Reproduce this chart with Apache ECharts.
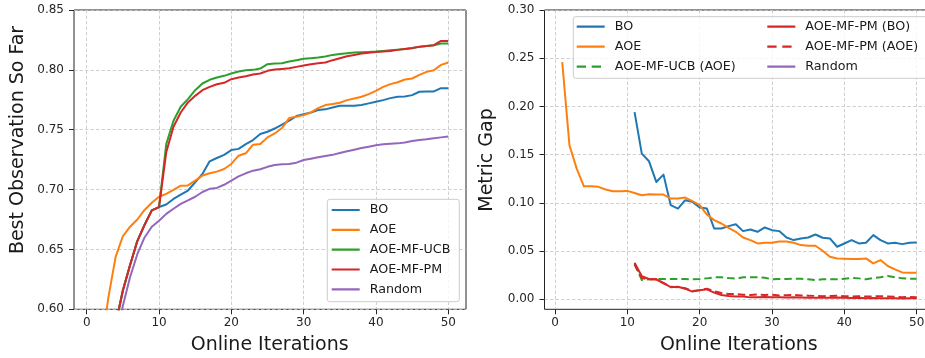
<!DOCTYPE html>
<html>
<head>
<meta charset="utf-8">
<title>Best observation so far / metric gap</title>
<script src="https://cdn.jsdelivr.net/npm/echarts@6/dist/echarts.min.js"></script>
<style>
  html, body { margin: 0; padding: 0; background: #fff; }
  #chart { width: 925px; height: 358px; }
</style>
</head>
<body>
<div id="chart"></div>
<script>
// left panel: best observation so far, iterations 0..50
const leftStart = 0;
const leftBO = [0.45, 0.50, 0.54, 0.57, 0.5873, 0.6157, 0.637, 0.657, 0.6705, 0.6826, 0.6854,
  0.6875, 0.6922, 0.6958, 0.6992, 0.706, 0.713, 0.7236, 0.7264, 0.729, 0.733,
  0.734, 0.738, 0.7414, 0.7464, 0.7483, 0.751, 0.7542, 0.7575, 0.7614, 0.763,
  0.7644, 0.7664, 0.767, 0.7686, 0.77, 0.77, 0.77, 0.7706, 0.772, 0.7733,
  0.7747, 0.7764, 0.7775, 0.7778, 0.7789, 0.7817, 0.782, 0.782, 0.7847, 0.7847];
const leftAOE = [0.45, 0.50, 0.5665, 0.61, 0.6438, 0.661, 0.669, 0.675, 0.683, 0.689, 0.694,
  0.6964, 0.6997, 0.7033, 0.7035, 0.7075, 0.7117, 0.7136, 0.715, 0.7172, 0.7214,
  0.7283, 0.7303, 0.7375, 0.738, 0.7436, 0.7469, 0.7514, 0.7597, 0.7608, 0.7622,
  0.7644, 0.768, 0.7706, 0.7714, 0.7725, 0.7747, 0.7761, 0.7775, 0.7797, 0.7825,
  0.7858, 0.7881, 0.7897, 0.7919, 0.7928, 0.7958, 0.7983, 0.7997, 0.8042, 0.8061];
const leftUCB = [0.45, 0.50, 0.54, 0.57, 0.5873, 0.6157, 0.637, 0.657, 0.6705, 0.6826, 0.6854,
  0.738, 0.7575, 0.7692, 0.7756, 0.783, 0.7886, 0.7917, 0.7936, 0.795, 0.797,
  0.7986, 0.7997, 0.8, 0.8011, 0.8047, 0.8053, 0.8056, 0.8069, 0.808, 0.8092,
  0.8097, 0.8103, 0.8111, 0.8125, 0.8133, 0.8139, 0.8144, 0.8147, 0.815, 0.8153,
  0.8158, 0.8164, 0.8169, 0.8175, 0.8181, 0.8192, 0.82, 0.8206, 0.822, 0.822];
const leftPM = [0.45, 0.50, 0.54, 0.57, 0.5873, 0.6157, 0.637, 0.657, 0.6705, 0.6826, 0.6854,
  0.7311, 0.7525, 0.7644, 0.7728, 0.7783, 0.783, 0.7858, 0.788, 0.7892, 0.7922,
  0.7936, 0.7947, 0.7961, 0.797, 0.7992, 0.8003, 0.8008, 0.8014, 0.8025, 0.8036,
  0.8047, 0.8056, 0.8061, 0.8081, 0.8097, 0.8114, 0.8125, 0.8136, 0.8142, 0.815,
  0.8153, 0.8158, 0.8167, 0.8175, 0.8183, 0.8194, 0.82, 0.8206, 0.8242, 0.8242];
const leftRandom = [0.45, 0.49, 0.52, 0.55, 0.573, 0.603, 0.627, 0.646, 0.66, 0.669, 0.674,
  0.6797, 0.684, 0.688, 0.691, 0.694, 0.698, 0.7006, 0.7014, 0.704, 0.7075,
  0.711, 0.7136, 0.7158, 0.717, 0.719, 0.7206, 0.7211, 0.7214, 0.7225, 0.7247,
  0.7258, 0.727, 0.728, 0.729, 0.7306, 0.732, 0.7333, 0.7347, 0.7358, 0.737,
  0.7378, 0.7383, 0.7386, 0.7394, 0.7406, 0.7414, 0.742, 0.7428, 0.7436, 0.7444];

// right panel: metric gap
const rightAOEStart = 1;
const rightAOE = [0.2459, 0.1597, 0.1355, 0.1172, 0.1172, 0.1166, 0.1138, 0.1121, 0.1121, 0.1124,
  0.1103, 0.1079, 0.109, 0.1086, 0.1086, 0.1045, 0.1045, 0.1055, 0.1017, 0.0976,
  0.0879, 0.0821, 0.0786, 0.0741, 0.07, 0.0641, 0.0614, 0.0579, 0.0586, 0.0586,
  0.06, 0.06, 0.0586, 0.0562, 0.0555, 0.0555, 0.0503, 0.0441, 0.0424, 0.0421,
  0.0417, 0.0417, 0.0424, 0.0372, 0.0407, 0.0345, 0.031, 0.0279, 0.0276, 0.0276];
const rightMFStart = 11;
const rightBO = [0.1941, 0.151, 0.1431, 0.1217, 0.1293, 0.0976, 0.0941, 0.1028, 0.101, 0.0952,
  0.0941, 0.0734, 0.0734, 0.0759, 0.0779, 0.0707, 0.0724, 0.07, 0.0745, 0.0717,
  0.0707, 0.0641, 0.0614, 0.0631, 0.0641, 0.0672, 0.0638, 0.0631, 0.0545, 0.0579,
  0.0614, 0.0579, 0.0586, 0.0666, 0.0614, 0.0579, 0.0586, 0.0572, 0.0586, 0.059];
const rightUCBAOE = [0.037, 0.020, 0.0207, 0.021, 0.021, 0.021, 0.021, 0.021, 0.0207, 0.021,
  0.0217, 0.0228, 0.0228, 0.022, 0.0214, 0.0228, 0.0228, 0.0228, 0.0224, 0.0207,
  0.021, 0.021, 0.0214, 0.0214, 0.0207, 0.020, 0.0207, 0.0207, 0.0207, 0.0214,
  0.0221, 0.0217, 0.0207, 0.0221, 0.0228, 0.0241, 0.0228, 0.0217, 0.0214, 0.0214];
const rightPMBO = [0.038, 0.024, 0.021, 0.0205, 0.017, 0.0125, 0.013, 0.011, 0.008, 0.0095,
  0.0103, 0.007, 0.0045, 0.0035, 0.003, 0.0028, 0.002, 0.0022, 0.0025, 0.0022,
  0.002, 0.0018, 0.002, 0.0018, 0.0015, 0.0017, 0.0015, 0.0015, 0.0018, 0.0015,
  0.0013, 0.0015, 0.0012, 0.0014, 0.0012, 0.0012, 0.001, 0.0008, 0.0012, 0.001];
const rightPMAOE = [0.036, 0.022, 0.0205, 0.021, 0.0165, 0.013, 0.0125, 0.0115, 0.0085, 0.0095,
  0.011, 0.0085, 0.0065, 0.0055, 0.0055, 0.0048, 0.0045, 0.005, 0.0045, 0.0048,
  0.004, 0.0042, 0.0045, 0.004, 0.0038, 0.0035, 0.0032, 0.0035, 0.0038, 0.0032,
  0.003, 0.0032, 0.0028, 0.003, 0.0032, 0.0028, 0.0025, 0.0022, 0.0025, 0.0022];

const C = { blue: '#1f77b4', orange: '#ff7f0e', green: '#2ca02c', red: '#d62728', purple: '#9467bd' };
const FONT = 'DejaVu Sans';
const INK = '#262626';
const gridLine = { color: '#c4c4c4', width: 0.8, type: [3.5, 2] };

const grids = [], xAxes = [], yAxes = [];

// one panel = data grid (frame) + grid carrying x ticks + grid carrying y ticks
function addPanel(f) {
  const sx = f.width / (f.xMax - f.xMin);
  const sy = f.height / (f.yMax - f.yMin);
  const g = grids.length;
  const base = { outerBoundsMode: 'none', containLabel: false };
  grids.push({ ...base, left: f.left, top: f.top, width: f.width, height: f.height,
    show: true, borderColor: '#222', borderWidth: 1, backgroundColor: 'transparent' });
  grids.push({ ...base, left: f.left + (f.xFrom - f.xMin) * sx, width: (f.xTo - f.xFrom) * sx,
    top: f.top, height: f.height });
  grids.push({ ...base, left: f.left, width: f.width,
    top: f.top + (f.yMax - f.yTo) * sy, height: (f.yTo - f.yFrom) * sy });
  const dataIdx = xAxes.length;
  xAxes.push({ gridIndex: g, type: 'value', min: f.xMin, max: f.xMax, show: false });
  yAxes.push({ gridIndex: g, type: 'value', min: f.yMin, max: f.yMax, show: false });
  xAxes.push({ gridIndex: g + 1, type: 'value', min: f.xFrom, max: f.xTo, interval: f.xStep,
    axisLine: { show: false, onZero: false },
    axisTick: { show: true, length: 5, lineStyle: { color: INK, width: 1 } },
    axisLabel: { fontFamily: FONT, fontSize: 12, color: INK, margin: 8 },
    splitLine: { show: true, lineStyle: gridLine } });
  yAxes.push({ gridIndex: g + 1, type: 'value', min: 0, max: 1, show: false });
  xAxes.push({ gridIndex: g + 2, type: 'value', min: 0, max: 1, show: false });
  yAxes.push({ gridIndex: g + 2, type: 'value', min: f.yFrom, max: f.yTo, interval: f.yStep,
    axisLine: { show: false, onZero: false },
    axisTick: { show: true, length: 5, lineStyle: { color: INK, width: 1 } },
    axisLabel: { fontFamily: FONT, fontSize: 12, color: INK, margin: 10,
      formatter: v => v.toFixed(2) },
    splitLine: { show: true, lineStyle: gridLine } });
  return dataIdx;
}

const L = addPanel({ left: 74, top: 10, width: 392, height: 299.3,
  xMin: -1.756, xMax: 52.45, yMin: 0.6, yMax: 0.85,
  xFrom: 0, xTo: 50, xStep: 10, yFrom: 0.6, yTo: 0.85, yStep: 0.05 });
const R = addPanel({ left: 544.5, top: 10, width: 389.9, height: 299.3,
  xMin: -1.45, xMax: 52.45, yMin: -0.01037, yMax: 0.30,
  xFrom: 0, xTo: 50, xStep: 10, yFrom: 0, yTo: 0.30, yStep: 0.05 });

function line(name, axis, start, values, color, dashed) {
  return {
    name, type: 'line', xAxisIndex: axis, yAxisIndex: axis,
    data: values.map((v, i) => [start + i, v]),
    symbol: 'none', showSymbol: false, color, clip: true,
    lineStyle: { width: 2, color, type: dashed ? [7.5, 4] : 'solid', join: 'round' },
    emphasis: { disabled: true }, silent: true
  };
}

const series = [
  line('BO', L, leftStart, leftBO, C.blue),
  line('AOE', L, leftStart, leftAOE, C.orange),
  line('AOE-MF-UCB', L, leftStart, leftUCB, C.green),
  line('AOE-MF-PM', L, leftStart, leftPM, C.red),
  line('Random', L, leftStart, leftRandom, C.purple),
  line('BO', R, rightMFStart, rightBO, C.blue),
  line('AOE', R, rightAOEStart, rightAOE, C.orange),
  line('AOE-MF-UCB (AOE)', R, rightMFStart, rightUCBAOE, C.green, true),
  line('AOE-MF-PM (BO)', R, rightMFStart, rightPMBO, C.red),
  line('AOE-MF-PM (AOE)', R, rightMFStart, rightPMAOE, C.red, true)
];

const solidIcon = 'path://M0,0h28v2.2h-28z M32.99,0h0.01v2.2h-0.01z';
const dashIcon = 'path://M0,0h9.3v2.2h-9.3z M15,0h9.3v2.2h-9.3z M32.99,0h0.01v2.2h-0.01z';
function legendBox(left, top, gap, items) {
  return {
    orient: 'vertical', left, top, padding: 0, itemWidth: 33, itemHeight: 2.2, itemGap: gap,
    selectedMode: false, itemStyle: { borderWidth: 0 },
    textStyle: { fontFamily: FONT, fontSize: 12.7, lineHeight: 14, color: '#1a1a1a' },
    data: items.map(([name, dashed]) => ({ name, icon: dashed ? dashIcon : solidIcon }))
  };
}

const legends = [
  legendBox(331.7, 203, 5.83, [['BO'], ['AOE'], ['AOE-MF-UCB'], ['AOE-MF-PM'], ['Random']]),
  legendBox(576.7, 19.7, 6, [['BO'], ['AOE'], ['AOE-MF-UCB (AOE)', true]]),
  legendBox(767.3, 19.7, 6, [['AOE-MF-PM (BO)'], ['AOE-MF-PM (AOE)', true], ['Random']])
];

function frame(x, y, w, h) {
  return { type: 'rect', z: 3, shape: { x, y, width: w, height: h, r: 2.5 },
    style: { fill: 'rgba(255,255,255,0.8)', stroke: '#cccccc', lineWidth: 1 } };
}
function title(text, x, y, vertical) {
  return { type: 'text', z: 5, x, y, rotation: vertical ? Math.PI / 2 : 0,
    style: { text, fontFamily: FONT, fontSize: 19, fill: '#1a1a1a',
      textAlign: 'center', textVerticalAlign: 'middle', align: 'center', verticalAlign: 'middle' } };
}

const chart = echarts.init(document.getElementById('chart'), null, { renderer: 'canvas' });
chart.setOption({
  animation: false,
  backgroundColor: '#fff',
  grid: grids,
  xAxis: xAxes,
  yAxis: yAxes,
  legend: legends,
  graphic: [
    frame(327.3, 199.3, 132, 102.4),
    frame(573.3, 16.7, 380, 61.6),
    title('Best Observation So Far', 18.5, 140, true),
    title('Online Iterations', 269.7, 345),
    title('Metric Gap', 487.5, 160, true),
    title('Online Iterations', 738.8, 345)
  ],
  series
});
</script>
</body>
</html>
